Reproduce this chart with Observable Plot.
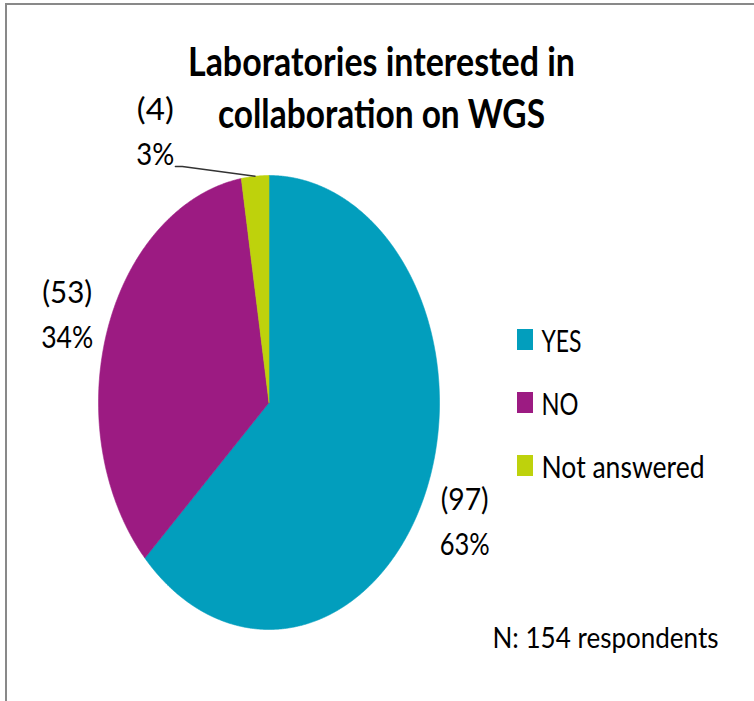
<!DOCTYPE html>
<html><head><meta charset="utf-8">
<script src="https://cdn.jsdelivr.net/npm/d3@7"></script>
<script src="https://cdn.jsdelivr.net/npm/@observablehq/plot@0.6"></script>
<style>
html,body{margin:0;padding:0;background:#fff;}
#chart{position:relative;width:754px;height:701px;font-family:Lato,"Open Sans",sans-serif;}
#frame{position:absolute;left:5px;top:3px;width:747px;height:696px;border-top:2px solid #898989;border-left:2px solid #898989;}
#chart svg{position:absolute;left:0;top:0;}
</style></head><body>
<div id="chart"><div id="frame"></div></div>
<script>
// ---- data ----
const titleLines = ["Laboratories interested in", "collaboration on WGS"];
const categories = ["YES", "NO", "Not answered"];
const counts = [97, 53, 4];
const colors = ["#029EBD", "#9C1B82", "#BED20C"];

// ---- derived ----
const total = d3.sum(counts);
const note = `N: ${total} respondents`;
let acc = 0;
const slices = categories.map((c, i) => {
  const a0 = acc / total * 2 * Math.PI;
  acc += counts[i];
  const a1 = acc / total * 2 * Math.PI;
  return {category: c, value: counts[i], pct: Math.round(counts[i] / total * 100) + "%", a0, a1, mid: (a0 + a1) / 2};
});
const piePts = slices.flatMap(s => {
  const n = Math.max(2, Math.ceil((s.a1 - s.a0) / (Math.PI / 720)));
  const pts = [{category: s.category, x: 0, y: 0}];
  for (let k = 0; k <= n; k++) {
    const a = s.a0 + (s.a1 - s.a0) * k / n;
    pts.push({category: s.category, x: Math.sin(a), y: Math.cos(a)});
  }
  pts.push({category: s.category, x: 0, y: 0});
  return pts;
});

// label placement (style)
const place = {
  "YES": {r: 1.25, dx: 0, dy: 6},
  "NO": {r: 1.25, dx: 0, dy: 2.5},
  "Not answered": {r: 1.2, dx: -97, dy: 0}
};
const xR = [98, 439], yR = [629, 175];
const pxX = (xR[1] - xR[0]) / 2, pxY = (yR[0] - yR[1]) / 2;

const labelMarks = slices.flatMap(s => {
  const p = place[s.category];
  const d = [{x: p.r * Math.sin(s.mid), y: p.r * Math.cos(s.mid), s}];
  const common = {x: "x", y: "y", textAnchor: "middle", lineAnchor: "bottom", fontSize: 31, fill: "black", fontFamily: "Lato", dx: p.dx};
  return [
    Plot.text(d, {...common, text: v => `(${v.s.value})`, dy: p.dy - 11.5}),
    Plot.text(d, {...common, text: v => v.s.pct, dy: p.dy + 33.5})
  ];
});

// leader line for the small slice
const small = slices[2];
const sp = place[small.category];
const anchor = {x: sp.r * Math.sin(small.mid), y: sp.r * Math.cos(small.mid)};
const leader = [
  {x: anchor.x + (sp.dx + 20) / pxX, y: anchor.y - 35.5 / pxY},
  {x: anchor.x + (sp.dx + 27) / pxX, y: anchor.y - 35.5 / pxY},
  {x: Math.sin(small.mid), y: Math.cos(small.mid)}
];

const main = Plot.plot({
  width: 754, height: 701, margin: 0,
  style: {background: "transparent", fontFamily: "Lato"},
  x: {domain: [-1, 1], range: xR, axis: null},
  y: {domain: [-1, 1], range: yR, axis: null},
  color: {domain: categories, range: colors},
  marks: [
    Plot.line(piePts, {x: "x", y: "y", z: "category", fill: "category", stroke: "category", strokeWidth: 0.6, curve: "linear"}),
    Plot.line(leader, {x: "x", y: "y", stroke: "#333", strokeWidth: 1.3}),
    ...labelMarks,
    Plot.text([titleLines[0]], {text: d => d, frameAnchor: "top", dx: 4, dy: 75, lineAnchor: "bottom", fontSize: 40, fontWeight: "bold", fill: "black", fontFamily: "Lato"}),
    Plot.text([titleLines[1]], {text: d => d, frameAnchor: "top", dx: 4, dy: 127, lineAnchor: "bottom", fontSize: 40, fontWeight: "bold", fill: "black", fontFamily: "Lato"}),
    Plot.text([note], {text: d => d, frameAnchor: "top-right", textAnchor: "end", dx: -36, dy: 647, lineAnchor: "bottom", fontSize: 29, fill: "black", fontFamily: "Lato"})
  ]
});

const legend = Plot.plot({
  width: 754, height: 701, margin: 0,
  style: {background: "transparent", fontFamily: "Lato"},
  x: {domain: [0, 1], range: [517, 533], axis: null},
  y: {type: "band", domain: categories, range: [328, 476], paddingInner: 0.669, paddingOuter: 0, axis: null},
  color: {domain: categories, range: colors},
  marks: [
    Plot.barX(categories, {x1: 0, x2: 1, y: d => d, fill: d => d}),
    Plot.text(categories, {x: 1, y: d => d, text: d => d, textAnchor: "start", dx: 8, dy: 11.5, lineAnchor: "bottom", fontSize: 30, fill: "black", fontFamily: "Lato"})
  ]
});

const widths = {
  "Laboratories interested in": 387,
  "collaboration on WGS": 327,
  "(97)": 48, "63%": 50, "(4)": 37, "3%": 38, "(53)": 50, "34%": 52,
  "YES": 40, "NO": 37, "Not answered": 163,
};
widths[note] = 226;
for (const svg of [main, legend]) {
  svg.querySelectorAll("text").forEach(t => {
    const w = widths[t.textContent];
    if (w) { t.setAttribute("textLength", w); t.setAttribute("lengthAdjust", "spacingAndGlyphs"); }
  });
}
const chart = document.getElementById("chart");
chart.appendChild(main);
chart.appendChild(legend);
</script>
</body></html>
